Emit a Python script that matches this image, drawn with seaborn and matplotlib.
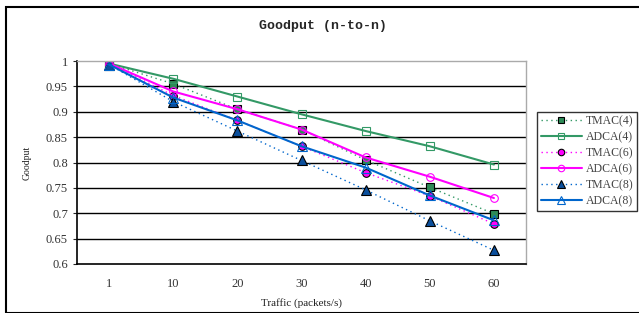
import matplotlib
matplotlib.use("Agg")
import matplotlib.pyplot as plt
import seaborn as sns
import pandas as pd
from matplotlib.patches import Rectangle

categories = ["1", "10", "20", "30", "40", "50", "60"]
tmac4 = [0.995, 0.955, 0.905, 0.865, 0.805, 0.751, 0.699]
adca4 = [0.995, 0.965, 0.930, 0.895, 0.862, 0.832, 0.796]
tmac6 = [0.995, 0.932, 0.883, 0.832, 0.780, 0.734, 0.679]
adca6 = [0.995, 0.940, 0.905, 0.865, 0.810, 0.772, 0.730]
tmac8 = [0.993, 0.920, 0.862, 0.804, 0.746, 0.685, 0.627]
adca8 = [0.993, 0.928, 0.883, 0.832, 0.790, 0.735, 0.686]
series_names = ["TMAC(4)", "ADCA(4)", "TMAC(6)", "ADCA(6)", "TMAC(8)", "ADCA(8)"]
series_vals = [tmac4, adca4, tmac6, adca6, tmac8, adca8]

green = "#339966"
magenta = "#FF00FF"
blue = "#0066CC"
dot = (0, (1, 2.5))
styles = {
    "TMAC(4)": dict(color=green, ls=dot, lw=1.0, marker="s", mfc="#2E8B57", mec="black", ms=5.5),
    "ADCA(4)": dict(color=green, ls="-", lw=1.5, marker="s", mfc="none", mec=green, ms=5.5),
    "TMAC(6)": dict(color=magenta, ls=dot, lw=1.0, marker="o", mfc=magenta, mec="black", ms=5.5),
    "ADCA(6)": dict(color=magenta, ls="-", lw=1.5, marker="o", mfc="none", mec=magenta, ms=5.5),
    "TMAC(8)": dict(color=blue, ls=dot, lw=1.0, marker="^", mfc="#0B4F9C", mec="black", ms=6.5),
    "ADCA(8)": dict(color=blue, ls="-", lw=1.5, marker="^", mfc="none", mec=blue, ms=6.5),
}

sns.set_style("white")
plt.rcParams["font.family"] = ["Liberation Serif", "DejaVu Serif"]

fig = plt.figure(figsize=(6.39, 3.13), dpi=100)
ax = fig.add_axes([77/639, 1-264/313, (526-77)/639, (264-61)/313])

for name, vals in zip(series_names, series_vals):
    df = pd.DataFrame({"Traffic": categories, "Goodput": vals})
    st = styles[name]
    sns.lineplot(data=df, x="Traffic", y="Goodput", ax=ax, label=name,
                 color=st["color"], linestyle=st["ls"], linewidth=st["lw"],
                 marker=st["marker"], markerfacecolor=st["mfc"],
                 markeredgecolor=st["mec"], markersize=st["ms"], markeredgewidth=0.8,
                 sort=False)

ax.set_xlim(-0.5, 6.5)
ax.set_ylim(0.6, 1.0)
yt = [0.6, 0.65, 0.7, 0.75, 0.8, 0.85, 0.9, 0.95, 1.0]
ax.set_yticks(yt)
ax.set_yticklabels(["0.6", "0.65", "0.7", "0.75", "0.8", "0.85", "0.9", "0.95", "1"])
for v in yt[1:-1]:
    ax.axhline(v, color="black", lw=1.0, zorder=0)
ax.set_xticks(range(len(categories)))
ax.set_xticklabels(categories)
ax.set_xticks([i + 0.5 for i in range(-1, 7)], minor=True)
ax.tick_params(axis="x", which="major", length=0, pad=10, labelsize=9, labelcolor="#333333")
ax.tick_params(axis="x", which="minor", length=3, direction="in", color="black")
ax.tick_params(axis="y", which="major", length=3, direction="out", labelsize=9, labelcolor="#333333", left=True)

for s in ["top", "right"]:
    ax.spines[s].set_color("#AAAAAA")
    ax.spines[s].set_linewidth(1.0)
for s in ["left", "bottom"]:
    ax.spines[s].set_color("black")
    ax.spines[s].set_linewidth(1.2)

ax.set_xlabel("Traffic (packets/s)", fontsize=8, color="#222222", labelpad=6)
ax.set_ylabel("Goodput", fontsize=7, color="#222222", labelpad=10)
fig.text(323/639, 1-26/313, "Goodput (n-to-n)", ha="center", va="center",
         fontsize=9.5, fontweight="bold", family=["Liberation Mono", "DejaVu Sans Mono"])

leg = ax.legend(loc="upper left", bbox_to_anchor=(537/639, 1-112/313), bbox_transform=fig.transFigure,
                frameon=True, fancybox=False, fontsize=8.5, handlelength=3.5, borderpad=0.3,
                labelspacing=0.33, handletextpad=0.3, borderaxespad=0, markerscale=0.85)
leg.get_frame().set_edgecolor("black")
leg.get_frame().set_linewidth(1.0)
for t in leg.get_texts():
    t.set_color("#444444")

fig.patches.append(Rectangle((6/639, 0), 1.0, 1-7/313, transform=fig.transFigure,
                             fill=False, edgecolor="black", linewidth=1.5))

fig.savefig("out.png", dpi=100)
